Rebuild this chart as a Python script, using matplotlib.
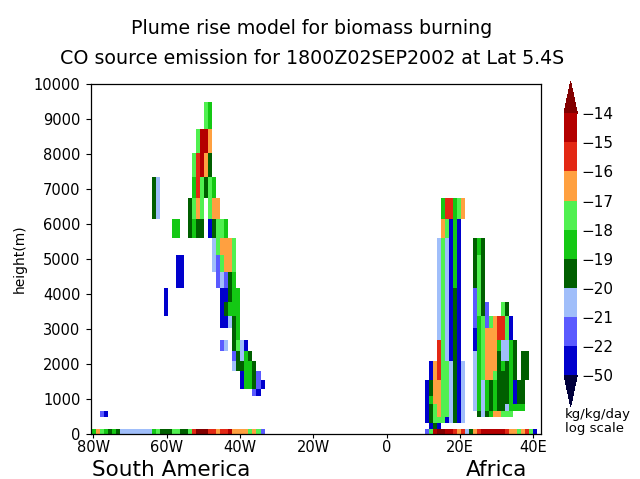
import numpy as np
import matplotlib
matplotlib.use("Agg")
import matplotlib.pyplot as plt
from matplotlib.colors import ListedColormap, BoundaryNorm

# ---------------- data ----------------
title_lines = ["Plume rise model for biomass burning",
               "CO source emission for 1800Z02SEP2002 at Lat 5.4S"]
cbar_levels = [-50, -22, -21, -20, -19, -18, -17, -16, -15, -14]
cbar_colors = ["#0000cd", "#5a5aff", "#a0befa", "#005f00", "#14c814",
               "#50f050", "#ffa040", "#e32814", "#b40000"]
under_color = "#00003c"
over_color = "#820000"
xtick_values = [-80, -60, -40, -20, 0, 20, 40]
xtick_labels = ["80W", "60W", "40W", "20W", "0", "20E", "40E"]
ytick_values = list(range(0, 10001, 1000))

# log10 emission class values (kg/kg/day) used for each colour code
code_values = {"B": -30.0, "b": -21.5, "l": -20.5, "D": -19.5, "G": -18.5,
               "g": -17.5, "o": -16.5, "r": -15.5, "R": -14.5, "M": -13.0}

# vertical cell edges (m)
height_edges = [0, 150, 310, 482, 666, 863, 1073, 1298, 1539, 1797, 2073,
                2368, 2683, 3021, 3383, 3769, 4183, 4626, 5100, 5607, 6149,
                6730, 7351, 8016, 8727, 9487, 10302]
# longitude cells: first column edge and spacing (deg)
lon_first_edge = -81.457
lon_step = 1.0942
n_columns = 113   # column index c = j + 1, j from -1 to 111

# level index -> list of (first column j, codes); '.' = no value
rows = {
    0: [(-1, "GGogGDGDllllllllGgDDDggDDgrMMMrrorrRoooogogb"),
        (83, "bgRMMRRrorlDorRRRRRRroogorgB")],
    1: [(84, "BDB")],
    2: [(83, "BDgggBlDBl")],
    3: [(2, "bB"), (83, "BDgogglDBl"), (96, "DlDGooggg")],
    4: [(83, "BDgogglDBl"), (95, "lGlGDGDDlGGGG")],
    5: [(83, "BGoogglDBl"), (95, "lGlGDGDDDGBDD")],
    6: [(40, "bB"), (83, "BDoogglDBl"), (95, "lGlGDGDDDGBDD")],
    7: [(37, "BGGDbB"), (83, "BDoogglDBl"), (95, "lGlGDGDDDGBDD")],
    8: [(37, "BGGDb"), (84, "BorgglDBl"), (95, "lGgoogDDDGD.DD")],
    9: [(35, "lDDGGD"), (84, "BorgglDBl"), (95, "lGgoooDGDGD.DD")],
    10: [(35, "bDlGD"), (86, "rglBDB"), (95, "lGgoooDllGD.DD")],
    11: [(32, "bl.DglB"), (86, "rglBDB"), (95, "BGgoooGllGD")],
    12: [(35, "DG"), (86, "lglBDB"), (95, "BGgooorrgB")],
    13: [(32, "BBlDG"), (86, "lglBDB"), (95, "bGgbgorrgB")],
    14: [(18, "B"), (32, "BDGGG"), (86, "lglBDB"), (95, "bgDb...gD")],
    15: [(18, "B"), (32, "BBDGG"), (86, "lglBDB"), (95, "bgD")],
    16: [(21, "BB"), (31, "blbDG"), (86, "lglBGB"), (95, "DgD")],
    17: [(21, "BB"), (30, "lbgoog"), (86, "lglBGB"), (95, "DgD")],
    18: [(30, "lgooog"), (86, "lglBGB"), (95, "DGD")],
    19: [(20, "GG"), (24, "DGDD.BDggG"), (87, "ogBGB")],
    20: [(15, "Dl"), (24, "Dgog.goo"), (87, "GrrGgo")],
    21: [(15, "Dl"), (25, "GrgDgG")],
    22: [(25, "grRoD")],
    23: [(26, "gRRo")],
    24: [(28, "gG")],
}

# ---------------- build grid ----------------
n_levels = len(height_edges) - 1
grid = np.full((n_levels, n_columns), np.nan)
for k, segs in rows.items():
    for j0, codes in segs:
        for i, ch in enumerate(codes):
            if ch != ".":
                grid[k, j0 + 1 + i] = code_values[ch]
lon_edges = lon_first_edge + lon_step * np.arange(n_columns + 1)

cmap = ListedColormap(cbar_colors)
cmap.set_under(under_color)
cmap.set_over(over_color)
norm = BoundaryNorm(cbar_levels, cmap.N)

# ---------------- figure ----------------
W, H = 640, 479
fig = plt.figure(figsize=(W / 100, H / 100), dpi=100)
ax = fig.add_axes([91 / W, (H - 434) / H, 450 / W, 350 / H])

mesh = ax.pcolormesh(lon_edges, height_edges, np.ma.masked_invalid(grid),
                     cmap=cmap, norm=norm, edgecolors="none",
                     antialiased=False, shading="flat")

ax.set_xlim(-80.636, 42.09)
ax.set_ylim(0, 10000)
ax.set_xticks(xtick_values)
ax.set_xticklabels(xtick_labels)
ax.set_yticks(ytick_values)
ax.set_yticklabels([str(v) for v in ytick_values])
ax.tick_params(axis="y", direction="out", length=3.6, width=0.8,
               pad=4.0, labelsize=10.5)
ax.tick_params(axis="x", direction="out", length=3.0, width=0.8,
               pad=1.5, labelsize=10.5)
for s in ax.spines.values():
    s.set_linewidth(0.9)
    s.set_color("black")

fig.text(312 / W, (H - 34) / H, title_lines[0], ha="center",
         va="baseline", fontsize=13.7)
fig.text(312 / W, (H - 64) / H, title_lines[1], ha="center",
         va="baseline", fontsize=13.7)
fig.text(20 / W, (H - 259) / H, "height(m)", rotation=90, ha="center",
         va="center", fontsize=10)
fig.text(92 / W, (H - 476) / H, "South America", ha="left",
         va="baseline", fontsize=15.5)
fig.text(466 / W, (H - 476) / H, "Africa", ha="left",
         va="baseline", fontsize=15.5)

# colorbar
cax = fig.add_axes([564 / W, (H - 406.7) / H, 13.3 / W, 325 / H])
cb = fig.colorbar(mesh, cax=cax, extend="both", extendfrac=0.12,
                  spacing="uniform", ticks=cbar_levels)
cb.set_ticklabels(["\u2212%d" % abs(v) for v in cbar_levels])
cb.outline.set_visible(False)
cb.ax.tick_params(length=0, pad=3.0, labelsize=11)
fig.text(565 / W, (H - 418) / H, "kg/kg/day", ha="left",
         va="baseline", fontsize=9.5)
fig.text(565 / W, (H - 431.8) / H, "log scale", ha="left",
         va="baseline", fontsize=9.5)

fig.savefig("out.png", dpi=100)
